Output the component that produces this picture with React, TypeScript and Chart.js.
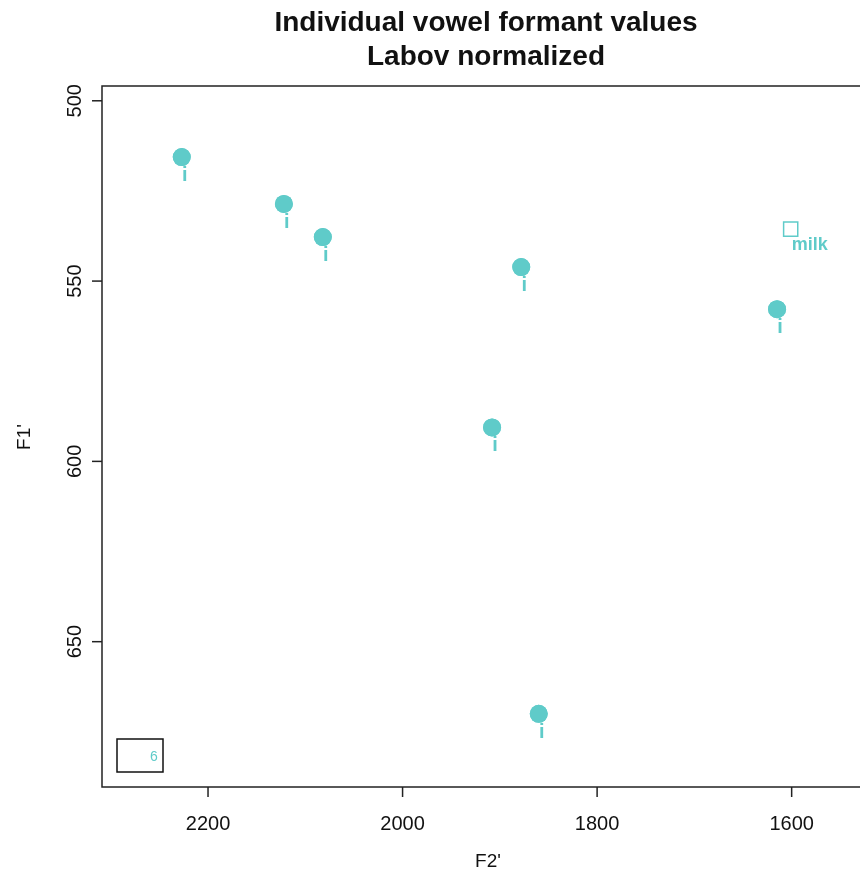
import React, { useEffect, useRef } from "react";
import { Chart, registerables } from "chart.js";

Chart.register(...registerables);

const vowelF2 = [2227, 2122, 2082, 1878, 1615, 1908, 1860];
const vowelF1 = [515.6, 528.6, 537.8, 546.1, 557.8, 590.6, 670.0];
const vowelLabels = ["i", "i", "i", "i", "i", "i", "i"];
const wordF2 = [1601];
const wordF1 = [535.6];
const wordLabels = ["milk"];
const xTicks = [2200, 2000, 1800, 1600];
const yTicks = [500, 550, 600, 650];
const titleLines = ["Individual vowel formant values", "Labov normalized"];
const legendText = "6";

const TEAL = "#5FCBC9";
const FONT = "'Liberation Sans', Arial, Helvetica, sans-serif";

export default function App() {
  const ref = useRef<HTMLCanvasElement | null>(null);
  useEffect(() => {
    if (!ref.current) return;
    const overlay = {
      id: "overlay",
      afterDatasetsDraw(chart: any) {
        const ctx = chart.ctx;
        const xs = chart.scales.x;
        const ys = chart.scales.y;
        const a = chart.chartArea;
        ctx.save();
        // box
        ctx.strokeStyle = "#222";
        ctx.lineWidth = 1.5;
        ctx.strokeRect(a.left, a.top, a.right - a.left, a.bottom - a.top);
        // y ticks
        ctx.fillStyle = "#111";
        ctx.font = `20px ${FONT}`;
        yTicks.forEach((v) => {
          const y = ys.getPixelForValue(v);
          ctx.beginPath();
          ctx.moveTo(a.left - 10, y);
          ctx.lineTo(a.left, y);
          ctx.stroke();
          ctx.save();
          ctx.translate(75, y);
          ctx.rotate(-Math.PI / 2);
          ctx.textAlign = "center";
          ctx.textBaseline = "middle";
          ctx.fillText(String(v), 0, 0);
          ctx.restore();
        });
        xTicks.forEach((v) => {
          const x = xs.getPixelForValue(v);
          ctx.beginPath();
          ctx.moveTo(x, a.bottom);
          ctx.lineTo(x, a.bottom + 10);
          ctx.stroke();
          ctx.textAlign = "center";
          ctx.textBaseline = "middle";
          ctx.fillText(String(v), x, 824);
        });
        // axis titles
        ctx.font = `19px ${FONT}`;
        ctx.fillText("F2'", 488, 862);
        ctx.save();
        ctx.translate(25, 437);
        ctx.rotate(-Math.PI / 2);
        ctx.fillText("F1'", 0, 0);
        ctx.restore();
        // title
        ctx.font = `bold 28px ${FONT}`;
        ctx.fillText(titleLines[0], 486, 23);
        ctx.fillText(titleLines[1], 486, 57);
        // vowel labels (drawn under the points so the dot hides)
        ctx.fillStyle = TEAL;
        ctx.font = `bold 20px ${FONT}`;
        ctx.textBaseline = "alphabetic";
        ctx.textAlign = "center";
        vowelF2.forEach((v, i) => {
          const x = xs.getPixelForValue(v);
          const y = ys.getPixelForValue(vowelF1[i]);
          ctx.fillText(vowelLabels[i], x + 3, y + 24);
        });
        ctx.font = `bold 18px ${FONT}`;
        wordF2.forEach((v, i) => {
          const x = xs.getPixelForValue(v);
          const y = ys.getPixelForValue(wordF1[i]);
          ctx.textAlign = "left";
          ctx.textBaseline = "middle";
          ctx.fillText(wordLabels[i], x + 1, y + 16);
        });
        // legend box
        ctx.strokeStyle = "#111";
        ctx.lineWidth = 1.5;
        ctx.strokeRect(117, 739, 46, 33);
        ctx.fillStyle = TEAL;
        ctx.font = `14px ${FONT}`;
        ctx.textAlign = "center";
        ctx.textBaseline = "middle";
        ctx.fillText(legendText, 154, 757);
        ctx.restore();
      },
    };
    const chart = new Chart(ref.current, {
      type: "scatter",
      data: {
        datasets: [
          {
            data: vowelF2.map((x, i) => ({ x, y: vowelF1[i] })),
            pointRadius: 9,
            pointBackgroundColor: TEAL,
            pointBorderColor: TEAL,
            pointBorderWidth: 0,
          },
          {
            data: wordF2.map((x, i) => ({ x, y: wordF1[i] })),
            pointStyle: "rect",
            pointRadius: 10,
            pointBackgroundColor: "rgba(0,0,0,0)",
            pointBorderColor: TEAL,
            pointBorderWidth: 1.5,
          },
        ],
      },
      options: {
        animation: false,
        responsive: false,
        devicePixelRatio: 1,
        layout: { padding: { left: 102, right: 10, top: 86, bottom: 90 } },
        plugins: { legend: { display: false }, tooltip: { enabled: false } },
        scales: {
          x: { type: "linear", reverse: true, min: 1521, max: 2309, display: false },
          y: { type: "linear", reverse: true, min: 495.9, max: 690.3, display: false },
        },
      },
      plugins: [
        overlay,
        {
          id: "redrawPoints",
          afterDatasetsDraw(chart: any) {
            // redraw filled points on top of the labels so the "i" dot is hidden
            const meta = chart.getDatasetMeta(0);
            const ctx = chart.ctx;
            meta.data.forEach((el: any) => el.draw(ctx, chart.chartArea));
          },
        },
      ],
    });
    return () => chart.destroy();
  }, []);
  return (
    <div style={{ position: "absolute", left: 0, top: 0, width: 860, height: 877, overflow: "hidden", background: "#fff" }}>
      <canvas ref={ref} width={880} height={877} style={{ width: 880, height: 877, display: "block" }} />
    </div>
  );
}
